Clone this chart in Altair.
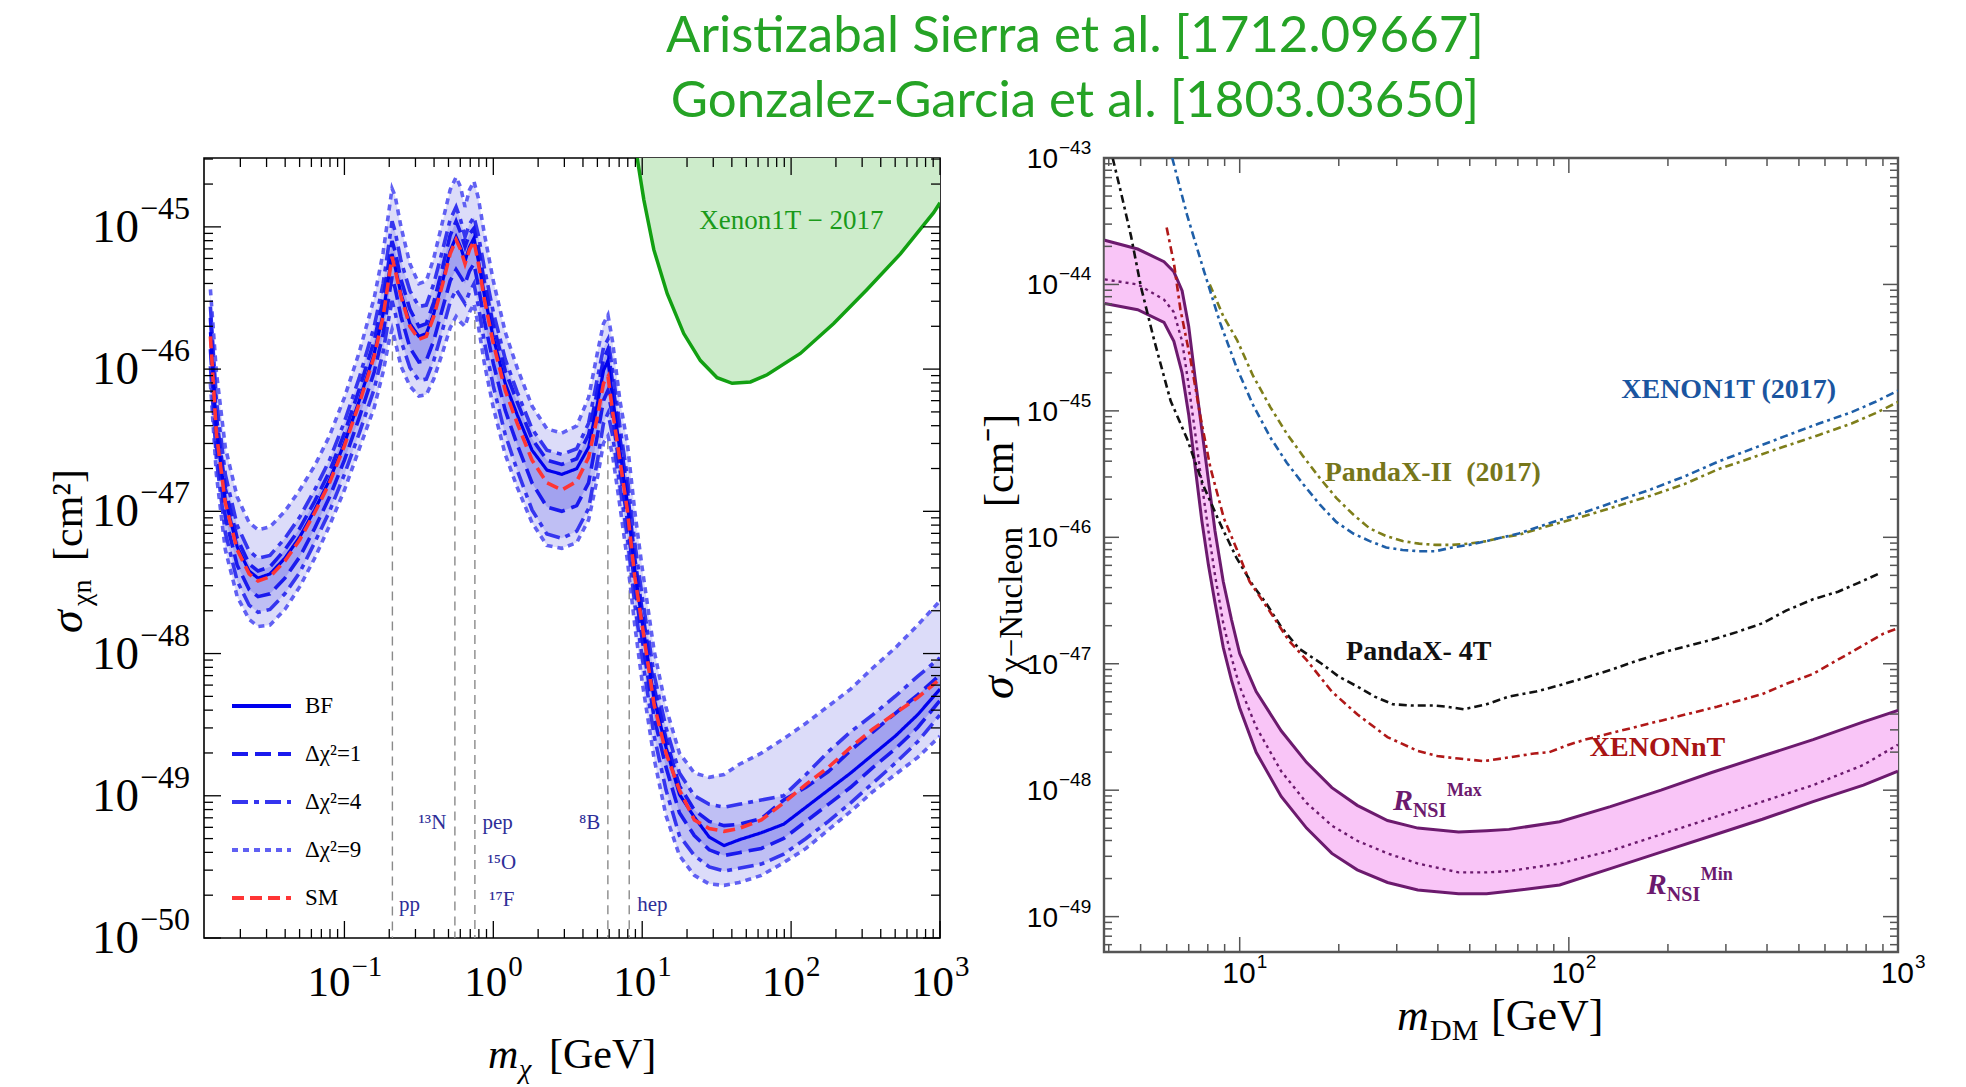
import altair as alt
import pandas as pd

SERIF = "Liberation Serif"
SANS = "Liberation Sans Narrow, Liberation Sans, Arial, sans-serif"
TITLE_FONT = "Lato"

TITLE_LINES = ["Aristizabal Sierra et al. [1712.09667]", "Gonzalez-Garcia et al. [1803.03650]"]

# ---------------------------------------------------------------------------
# Left panel: neutrino-floor discovery limit (log10 of m in GeV, log10 of sigma in cm^2)
# ---------------------------------------------------------------------------
LOG_M = [-1.90, -1.86, -1.80, -1.72, -1.64, -1.58, -1.50, -1.40, -1.30, -1.20,
         -1.10, -1.00, -0.90, -0.80, -0.74, -0.70, -0.68, -0.66, -0.62, -0.56,
         -0.50, -0.45, -0.40, -0.34, -0.29, -0.25, -0.22, -0.19, -0.16, -0.13,
         -0.10, -0.06, 0.00, 0.08, 0.16, 0.26, 0.36, 0.46, 0.56, 0.64,
         0.70, 0.74, 0.77, 0.80, 0.85, 0.90, 0.95, 1.00, 1.08, 1.16,
         1.25, 1.35, 1.45, 1.55, 1.65, 1.80, 1.95, 2.10, 2.25, 2.40,
         2.55, 2.70, 2.85, 3.00]

BF = [-45.74, -46.42, -46.92, -47.25, -47.42, -47.47, -47.44, -47.33, -47.18, -46.99,
      -46.78, -46.52, -46.22, -45.89, -45.61, -45.33, -45.19, -45.28, -45.47, -45.68,
      -45.77, -45.75, -45.61, -45.38, -45.17, -45.07, -45.14, -45.24, -45.14, -45.08,
      -45.24, -45.48, -45.78, -46.10, -46.32, -46.57, -46.71, -46.74, -46.70, -46.55,
      -46.24, -46.01, -45.94, -46.19, -46.57, -46.94, -47.41, -47.78, -48.32, -48.66,
      -48.99, -49.15, -49.29, -49.35, -49.31, -49.26, -49.20, -49.08, -48.96, -48.84,
      -48.71, -48.58, -48.43, -48.25]

SM = [-45.77, -46.45, -46.94, -47.27, -47.44, -47.49, -47.46, -47.35, -47.20, -47.01,
      -46.80, -46.54, -46.24, -45.91, -45.63, -45.35, -45.21, -45.30, -45.49, -45.70,
      -45.79, -45.77, -45.63, -45.40, -45.19, -45.09, -45.16, -45.26, -45.16, -45.10,
      -45.26, -45.51, -45.82, -46.15, -46.38, -46.64, -46.80, -46.85, -46.79, -46.62,
      -46.33, -46.10, -46.05, -46.29, -46.64, -46.99, -47.46, -47.80, -48.36, -48.70,
      -48.96, -49.17, -49.23, -49.25, -49.23, -49.17, -49.05, -48.92, -48.80, -48.66,
      -48.53, -48.42, -48.31, -48.18]

UP9 = [-45.44, -46.02, -46.55, -46.90, -47.08, -47.13, -47.11, -47.00, -46.85, -46.68,
       -46.47, -46.20, -45.88, -45.50, -45.18, -44.88, -44.73, -44.78, -45.00, -45.26,
       -45.40, -45.38, -45.22, -44.96, -44.74, -44.65, -44.72, -44.86, -44.74, -44.68,
       -44.80, -45.05, -45.38, -45.74, -45.99, -46.26, -46.42, -46.45, -46.40, -46.20,
       -45.88, -45.68, -45.62, -45.80, -46.22, -46.52, -47.00, -47.40, -47.98, -48.38,
       -48.70, -48.84, -48.87, -48.85, -48.78, -48.70, -48.60, -48.49, -48.37, -48.25,
       -48.10, -47.96, -47.80, -47.63]

UP4 = [-45.56, -46.22, -46.74, -47.10, -47.28, -47.33, -47.31, -47.19, -47.04, -46.85,
       -46.64, -46.37, -46.06, -45.70, -45.40, -45.11, -44.96, -45.03, -45.24, -45.45,
       -45.56, -45.55, -45.40, -45.16, -44.95, -44.86, -44.95, -45.07, -44.98, -44.93,
       -45.06, -45.29, -45.60, -45.93, -46.16, -46.42, -46.57, -46.60, -46.56, -46.38,
       -46.06, -45.85, -45.79, -46.00, -46.40, -46.76, -47.22, -47.60, -48.15, -48.52,
       -48.84, -49.00, -49.06, -49.08, -49.06, -49.03, -49.00, -48.85, -48.69, -48.55,
       -48.43, -48.30, -48.16, -48.03]

UP1 = [-45.64, -46.33, -46.84, -47.19, -47.37, -47.42, -47.39, -47.27, -47.12, -46.93,
       -46.72, -46.45, -46.14, -45.80, -45.51, -45.23, -45.10, -45.17, -45.37, -45.58,
       -45.70, -45.68, -45.53, -45.28, -45.06, -44.96, -45.04, -45.14, -45.05, -45.01,
       -45.15, -45.39, -45.69, -46.01, -46.23, -46.49, -46.64, -46.67, -46.63, -46.46,
       -46.15, -45.93, -45.86, -46.09, -46.48, -46.85, -47.33, -47.70, -48.24, -48.60,
       -48.93, -49.10, -49.18, -49.21, -49.20, -49.16, -49.03, -48.94, -48.83, -48.68,
       -48.55, -48.42, -48.29, -48.15]

LO1 = [-45.86, -46.53, -47.04, -47.38, -47.55, -47.60, -47.58, -47.47, -47.32, -47.12,
       -46.90, -46.64, -46.34, -46.02, -45.75, -45.48, -45.35, -45.43, -45.63, -45.85,
       -45.95, -45.94, -45.80, -45.57, -45.38, -45.30, -45.35, -45.40, -45.31, -45.26,
       -45.42, -45.66, -45.96, -46.29, -46.53, -46.80, -46.97, -47.00, -46.96, -46.80,
       -46.46, -46.22, -46.15, -46.33, -46.70, -47.06, -47.52, -47.90, -48.45, -48.80,
       -49.12, -49.28, -49.38, -49.42, -49.40, -49.37, -49.30, -49.18, -49.06, -48.94,
       -48.80, -48.67, -48.52, -48.33]

LO4 = [-45.98, -46.63, -47.15, -47.49, -47.66, -47.71, -47.69, -47.58, -47.43, -47.22,
       -47.00, -46.74, -46.45, -46.14, -45.88, -45.63, -45.52, -45.60, -45.80, -45.99,
       -46.08, -46.07, -45.94, -45.72, -45.53, -45.44, -45.49, -45.54, -45.46, -45.40,
       -45.56, -45.81, -46.12, -46.46, -46.71, -46.99, -47.16, -47.19, -47.14, -46.98,
       -46.64, -46.38, -46.31, -46.46, -46.82, -47.18, -47.65, -48.03, -48.58, -48.96,
       -49.28, -49.42, -49.50, -49.53, -49.51, -49.48, -49.41, -49.30, -49.18, -49.05,
       -48.91, -48.77, -48.62, -48.43]

LO9 = [-46.10, -46.74, -47.27, -47.60, -47.76, -47.81, -47.80, -47.69, -47.53, -47.33,
       -47.10, -46.85, -46.56, -46.27, -46.02, -45.80, -45.72, -45.80, -45.98, -46.12,
       -46.19, -46.18, -46.07, -45.88, -45.71, -45.63, -45.67, -45.70, -45.60, -45.54,
       -45.70, -45.96, -46.27, -46.60, -46.83, -47.08, -47.24, -47.26, -47.22, -47.06,
       -46.76, -46.52, -46.47, -46.60, -46.96, -47.34, -47.80, -48.20, -48.74, -49.14,
       -49.42, -49.56, -49.62, -49.63, -49.61, -49.56, -49.47, -49.37, -49.24, -49.11,
       -48.97, -48.85, -48.73, -48.58]

# Xenon1T 2017 exclusion boundary
XE_LOG_M = [0.966, 1.011, 1.078, 1.168, 1.279, 1.391, 1.503, 1.604, 1.727, 1.839,
            2.062, 2.286, 2.510, 2.734, 2.957, 3.000]
XE_LOG_S = [-44.515, -44.81, -45.16, -45.47, -45.75, -45.94, -46.06, -46.10, -46.09, -46.04,
            -45.89, -45.68, -45.44, -45.19, -44.90, -44.83]

# neutrino source thresholds (vertical guide lines end on the lowest curve)
NU_LINE_M = [0.21, 0.552, 0.752, 5.88, 8.18]
NU_LINE_TOP = [-45.77, -45.63, -45.55, -46.50, -47.45]
NU_TEXT = ["pp", "¹³N", "pep", "¹⁵O", "¹⁷F", "⁸B", "hep"]
NU_TEXT_M = [0.274, 0.39, 1.07, 1.14, 1.14, 4.43, 11.7]
NU_TEXT_LOG_S = [-49.77, -49.19, -49.19, -49.47, -49.73, -49.19, -49.77]

SERIES = ["BF", "Δχ²=1", "Δχ²=4", "Δχ²=9", "SM"]
SERIES_COLORS = ["#0000ee", "#1a1aee", "#3535ef", "#6060f3", "#ff3535"]
SERIES_DASH = [[1, 0], [16, 7], [16, 6, 5, 6], [6, 5], [12, 6]]

# ---------------------------------------------------------------------------
# Right panel: direct-detection limits and R_NSI band
# ---------------------------------------------------------------------------
X1T_LOG_M = [0.795, 0.84, 0.891, 0.94, 0.991, 1.04, 1.093, 1.143, 1.193, 1.243,
             1.294, 1.345, 1.395, 1.445, 1.495, 1.545, 1.595, 1.646, 1.697, 1.75,
             1.848, 1.95, 2.05, 2.15, 2.25, 2.35, 2.455, 2.557, 2.657, 2.76,
             2.859, 2.93, 3.0]
X1T_LOG_S = [-43.0, -43.45, -43.89, -44.3, -44.66, -44.95, -45.21, -45.41, -45.58, -45.74,
             -45.88, -45.97, -46.03, -46.08, -46.10, -46.11, -46.11, -46.08, -46.06, -46.03,
             -45.97, -45.88, -45.80, -45.71, -45.62, -45.52, -45.40, -45.30, -45.20, -45.10,
             -45.01, -44.93, -44.84]

P2_LOG_M = [0.909, 0.95, 0.992, 1.04, 1.093, 1.143, 1.193, 1.243, 1.294, 1.345,
            1.395, 1.445, 1.495, 1.545, 1.596, 1.646, 1.697, 1.75, 1.798, 1.848,
            1.95, 2.05, 2.15, 2.25, 2.35, 2.455, 2.557, 2.657, 2.76, 2.859,
            2.93, 3.0]
P2_LOG_S = [-44.0, -44.25, -44.44, -44.72, -44.97, -45.18, -45.36, -45.53, -45.69, -45.82,
            -45.93, -45.99, -46.03, -46.05, -46.06, -46.06, -46.05, -46.03, -46.0, -45.98,
            -45.90, -45.83, -45.75, -45.67, -45.58, -45.46, -45.37, -45.28, -45.19, -45.10,
            -45.02, -44.93]

P4_LOG_M = [0.614, 0.64, 0.67, 0.70, 0.74, 0.79, 0.84, 0.891, 0.942, 0.99,
            1.04, 1.08, 1.126, 1.18, 1.249, 1.30, 1.357, 1.41, 1.465, 1.52,
            1.588, 1.63, 1.68, 1.75, 1.818, 1.9, 1.972, 2.05, 2.126, 2.203,
            2.3, 2.434, 2.51, 2.588, 2.66, 2.742, 2.818, 2.88, 2.94]
P4_LOG_S = [-43.0, -43.28, -43.62, -44.02, -44.44, -44.92, -45.22, -45.60, -45.90, -46.16,
            -46.38, -46.52, -46.71, -46.88, -47.00, -47.10, -47.18, -47.26, -47.32, -47.33,
            -47.33, -47.34, -47.36, -47.32, -47.26, -47.22, -47.17, -47.11, -47.05, -46.98,
            -46.90, -46.81, -46.75, -46.68, -46.58, -46.49, -46.43, -46.36, -46.29]

XNT_LOG_M = [0.778, 0.80, 0.82, 0.851, 0.881, 0.911, 0.952, 0.992, 1.03, 1.095,
             1.15, 1.203, 1.28, 1.357, 1.449, 1.541, 1.60, 1.665, 1.742, 1.82,
             1.895, 1.94, 2.0, 2.05, 2.126, 2.203, 2.28, 2.357, 2.45, 2.588,
             2.66, 2.742, 2.85, 2.957, 3.0]
XNT_LOG_S = [-43.55, -43.83, -44.2, -44.6, -45.05, -45.45, -45.85, -46.1, -46.35, -46.6,
             -46.82, -46.97, -47.22, -47.40, -47.58, -47.69, -47.73, -47.75, -47.77, -47.74,
             -47.71, -47.70, -47.64, -47.60, -47.55, -47.50, -47.45, -47.40, -47.34, -47.24,
             -47.16, -47.08, -46.92, -46.76, -46.72]

NSI_LOG_M = [0.59, 0.69, 0.77, 0.80, 0.825, 0.845, 0.865, 0.885, 0.905, 0.925,
             0.95, 0.975, 1.0, 1.05, 1.126, 1.203, 1.28, 1.357, 1.449, 1.541,
             1.665, 1.75, 1.818, 1.972, 2.126, 2.28, 2.434, 2.588, 2.742, 2.895, 3.0]
NSI_MAX = [-43.65, -43.72, -43.82, -43.90, -44.05, -44.33, -44.75, -45.15, -45.55, -45.95,
           -46.35, -46.65, -46.92, -47.22, -47.53, -47.78, -47.98, -48.12, -48.24, -48.30,
           -48.33, -48.32, -48.31, -48.25, -48.13, -48.00, -47.86, -47.73, -47.60, -47.46, -47.37]
NSI_MIN = [-44.15, -44.20, -44.30, -44.45, -44.70, -45.03, -45.45, -45.87, -46.22, -46.52,
           -46.87, -47.13, -47.35, -47.70, -48.05, -48.30, -48.50, -48.63, -48.73, -48.79,
           -48.82, -48.82, -48.80, -48.75, -48.62, -48.49, -48.36, -48.23, -48.09, -47.96, -47.85]
NSI_MID = [-43.96, -44.00, -44.12, -44.22, -44.45, -44.80, -45.18, -45.58, -45.95, -46.30,
           -46.68, -46.95, -47.18, -47.50, -47.85, -48.10, -48.28, -48.40, -48.50, -48.58,
           -48.65, -48.65, -48.64, -48.58, -48.48, -48.35, -48.22, -48.09, -47.96, -47.80, -47.64]

# ---------------------------------------------------------------------------
W1, H1 = 736, 780
W2, H2 = 794, 794
GAP = 164

XS1 = alt.Scale(type="log", domain=[0.0114, 1000], nice=False)
YS1 = alt.Scale(type="log", domain=[1e-50, 3.05e-45], nice=False)
XS2 = alt.Scale(type="log", domain=[3.87, 1000], nice=False)
YS2 = alt.Scale(type="log", domain=[5.25e-50, 1e-43], nice=False)


def p10(values):
    return [10.0 ** v for v in values]


def X(field, scale):
    return alt.X(field, type="quantitative", scale=scale, axis=None)


def Y(field, scale):
    return alt.Y(field, type="quantitative", scale=scale, axis=None)


def frame_ticks(xs, ys, w, h, xmaj, xmin, ymaj, ymin, lmaj, lmin, color, width):
    out = []
    for vals, ln in ((xmaj, lmaj), (xmin, lmin)):
        r = alt.Chart(pd.DataFrame({"v": vals})).mark_rule(color=color, strokeWidth=width)
        out.append(r.encode(x=X("v", xs), y=alt.value(h), y2=alt.value(h - ln)))
        out.append(r.encode(x=X("v", xs), y=alt.value(0), y2=alt.value(ln)))
    for vals, ln in ((ymaj, lmaj), (ymin, lmin)):
        r = alt.Chart(pd.DataFrame({"v": vals})).mark_rule(color=color, strokeWidth=width)
        out.append(r.encode(y=Y("v", ys), x=alt.value(0), x2=alt.value(ln)))
        out.append(r.encode(y=Y("v", ys), x=alt.value(w), x2=alt.value(w - ln)))
    return out


def pow_x_labels(xs, vals, exps, y_base, y_exp, dx, fs_b, fs_e, font):
    d = pd.DataFrame({"v": vals, "b": ["10"] * len(vals), "e": exps})
    base = alt.Chart(d).mark_text(font=font, fontSize=fs_b, align="right",
                                  baseline="alphabetic", dx=dx, color="black")
    sup = alt.Chart(d).mark_text(font=font, fontSize=fs_e, align="left",
                                 baseline="alphabetic", dx=dx + 1, color="black")
    return [base.encode(x=X("v", xs), y=alt.value(y_base), text="b:N"),
            sup.encode(x=X("v", xs), y=alt.value(y_exp), text="e:N")]


def pow_y_labels(ys, vals, exps, x_anchor, dy_b, dy_e, fs_b, fs_e, font):
    d = pd.DataFrame({"v": vals, "b": ["10"] * len(vals), "e": exps})
    base = alt.Chart(d).mark_text(font=font, fontSize=fs_b, align="right",
                                  baseline="alphabetic", dy=dy_b, color="black")
    sup = alt.Chart(d).mark_text(font=font, fontSize=fs_e, align="left",
                                 baseline="alphabetic", dy=dy_e, color="black")
    return [base.encode(y=Y("v", ys), x=alt.value(x_anchor), text="b:N"),
            sup.encode(y=Y("v", ys), x=alt.value(x_anchor + 1), text="e:N")]


def piece(text, x, y, size, font=SERIF, italic=False, angle=0, dx=0, dy=0,
          weight="normal", color="black", align="left"):
    d = pd.DataFrame({"t": [text]})
    kw = dict(font=font, fontSize=size, fontStyle="italic" if italic else "normal",
              fontWeight=weight, align=align, baseline="alphabetic", dx=dx, dy=dy,
              color=color)
    if angle:
        kw["angle"] = angle
    return alt.Chart(d).mark_text(**kw).encode(x=alt.value(x), y=alt.value(y), text="t:N")


def data_text(text, m, s, xs, ys, size, color, font=SERIF, weight="normal",
              italic=False, align="center", baseline="middle", dx=0, dy=0):
    d = pd.DataFrame({"t": [text], "m": [m], "s": [s]})
    return alt.Chart(d).mark_text(
        font=font, fontSize=size, color=color, fontWeight=weight,
        fontStyle="italic" if italic else "normal", align=align, baseline=baseline,
        dx=dx, dy=dy).encode(x=X("m", xs), y=Y("s", ys), text="t:N")


# ----------------------------- left panel -----------------------------------
M = p10(LOG_M)
bands = pd.DataFrame({"m": M, "u9": p10(UP9), "l9": p10(LO9), "u4": p10(UP4),
                      "l4": p10(LO4), "u1": p10(UP1), "l1": p10(LO1)})

rows = []
for name, side, arr in (("Δχ²=9", "up", UP9), ("Δχ²=9", "lo", LO9),
                        ("Δχ²=4", "up", UP4), ("Δχ²=4", "lo", LO4),
                        ("Δχ²=1", "up", UP1), ("Δχ²=1", "lo", LO1)):
    for mv, sv in zip(M, p10(arr)):
        rows.append({"series": name, "side": side, "m": mv, "s": sv})
band_lines = pd.DataFrame(rows)
bf_line = pd.DataFrame({"series": "BF", "side": "c", "m": M, "s": p10(BF)})
sm_line = pd.DataFrame({"series": "SM", "side": "c", "m": M, "s": p10(SM)})

legend = alt.Legend(title=None, orient="none", legendX=26, legendY=536,
                    symbolType="stroke", symbolSize=3481, symbolStrokeWidth=4,
                    labelFont=SERIF, labelFontSize=23, labelColor="black",
                    labelOffset=12, rowPadding=24, clipHeight=24, padding=0)
color_enc = alt.Color("series:N", scale=alt.Scale(domain=SERIES, range=SERIES_COLORS),
                      legend=legend)
dash_enc = alt.StrokeDash("series:N", scale=alt.Scale(domain=SERIES, range=SERIES_DASH),
                          legend=legend)

xen = pd.DataFrame({"m": p10(XE_LOG_M), "s": p10(XE_LOG_S), "top": 3.05e-45})
nu_lines = pd.DataFrame({"m": NU_LINE_M, "top": p10(NU_LINE_TOP), "bot": 1e-50})
nu_text = pd.DataFrame({"t": NU_TEXT, "m": NU_TEXT_M, "s": p10(NU_TEXT_LOG_S)})

left_layers = [
    alt.Chart(xen).mark_area(color="#cdeccb", clip=True).encode(
        x=X("m", XS1), y=Y("s", YS1), y2=alt.Y2("top")),
    alt.Chart(xen).mark_line(color="#12a012", strokeWidth=3.5, clip=True).encode(
        x=X("m", XS1), y=Y("s", YS1)),
    alt.Chart(bands).mark_area(color="#dcdcf9", clip=True).encode(
        x=X("m", XS1), y=Y("l9", YS1), y2=alt.Y2("u9")),
    alt.Chart(bands).mark_area(color="#bfbff4", clip=True).encode(
        x=X("m", XS1), y=Y("l4", YS1), y2=alt.Y2("u4")),
    alt.Chart(bands).mark_area(color="#a2a2ef", clip=True).encode(
        x=X("m", XS1), y=Y("l1", YS1), y2=alt.Y2("u1")),
    alt.Chart(nu_lines).mark_rule(color="#8a8a8a", strokeWidth=1.4, strokeDash=[9, 6]).encode(
        x=X("m", XS1), y=Y("top", YS1), y2=alt.Y2("bot")),
    alt.Chart(band_lines).mark_line(strokeWidth=3.6, clip=True).encode(
        x=X("m", XS1), y=Y("s", YS1), color=color_enc, strokeDash=dash_enc, detail="side:N"),
    alt.Chart(bf_line).mark_line(strokeWidth=3.2, clip=True).encode(
        x=X("m", XS1), y=Y("s", YS1), color=color_enc, strokeDash=dash_enc),
    alt.Chart(sm_line).mark_line(strokeWidth=3.6, clip=True).encode(
        x=X("m", XS1), y=Y("s", YS1), color=color_enc, strokeDash=dash_enc),
    alt.Chart(nu_text).mark_text(font=SERIF, fontSize=21, color="#2e2e98").encode(
        x=X("m", XS1), y=Y("s", YS1), text="t:N"),
    data_text("Xenon1T − 2017", 100.5, 10 ** -44.958, XS1, YS1, 27, "#1a9a1a"),
]

X_MAJ_L = [0.1, 1, 10, 100, 1000]
X_MIN_L = [k * 10.0 ** d for d in range(-2, 3) for k in range(2, 10)]
Y_MAJ_L = [10.0 ** e for e in range(-50, -44)]
Y_MIN_L = [k * 10.0 ** e for e in range(-50, -44) for k in range(2, 10) if k * 10.0 ** e <= 3.05e-45]
left_layers += frame_ticks(XS1, YS1, W1, H1, X_MAJ_L, X_MIN_L, Y_MAJ_L, Y_MIN_L,
                           17, 9, "black", 1.3)
left_layers += pow_x_labels(XS1, [0.1], ["−1"], H1 + 58, H1 + 38, 6, 43, 29, SERIF)
left_layers += pow_x_labels(XS1, [1, 10, 100, 1000], ["0", "1", "2", "3"],
                            H1 + 58, H1 + 38, 14, 43, 29, SERIF)
left_layers += pow_y_labels(YS1, Y_MAJ_L, ["−50", "−49", "−48", "−47", "−46", "−45"],
                            -65, 15, -8, 47, 32, SERIF)
# axis titles
left_layers += [
    piece("m", 284, 910, 42, italic=True),
    piece("χ", 315, 920, 28, italic=True),
    piece("[GeV]", 345, 910, 42),
    piece("σ", -122, 475, 46, italic=True, angle=270),
    piece("χn", -122, 475, 28, angle=270, dx=27, dy=9),
    piece("[cm²]", -122, 475, 42, angle=270, dx=72),
]
# two-line heading, centred over both panels
HEAD_X = 871
left_layers += [
    piece(TITLE_LINES[0], HEAD_X, -106, 51, font=TITLE_FONT, color="#25a325", align="center"),
    piece(TITLE_LINES[1], HEAD_X, -41, 51, font=TITLE_FONT, color="#25a325", align="center"),
]

left = alt.layer(*left_layers).properties(
    width=W1, height=H1, view=alt.ViewBackground(stroke="black", strokeWidth=1.6))

# ----------------------------- right panel ----------------------------------
nsi = pd.DataFrame({"m": p10(NSI_LOG_M), "hi": p10(NSI_MAX), "lo": p10(NSI_MIN),
                    "mid": p10(NSI_MID)})


def limit_line(lm, ls, color, dash, width=2.6):
    d = pd.DataFrame({"m": p10(lm), "s": p10(ls)})
    return alt.Chart(d).mark_line(color=color, strokeDash=dash, strokeWidth=width,
                                  clip=True).encode(x=X("m", XS2), y=Y("s", YS2))


PURPLE = "#6c1a6e"
right_layers = [
    alt.Chart(nsi).mark_area(color="#f9c5f7", clip=True).encode(
        x=X("m", XS2), y=Y("lo", YS2), y2=alt.Y2("hi")),
    alt.Chart(nsi).mark_line(color=PURPLE, strokeWidth=3, clip=True).encode(
        x=X("m", XS2), y=Y("hi", YS2)),
    alt.Chart(nsi).mark_line(color=PURPLE, strokeWidth=3, clip=True).encode(
        x=X("m", XS2), y=Y("lo", YS2)),
    alt.Chart(nsi).mark_line(color=PURPLE, strokeWidth=2.4, strokeDash=[3, 4], clip=True).encode(
        x=X("m", XS2), y=Y("mid", YS2)),
    limit_line(P4_LOG_M, P4_LOG_S, "#111111", [8, 4, 3, 4]),
    limit_line(XNT_LOG_M, XNT_LOG_S, "#b01818", [8, 4, 3, 4]),
    limit_line(P2_LOG_M, P2_LOG_S, "#7e7e1a", [8, 4, 3, 4]),
    limit_line(X1T_LOG_M, X1T_LOG_S, "#1f5fa8", [8, 4, 3, 4]),
    data_text("XENON1T (2017)", 306, 10 ** -44.834, XS2, YS2, 28, "#1a55a0", weight="bold"),
    data_text("PandaX-II\u00a0 (2017)", 38.6, 10 ** -45.49, XS2, YS2, 28, "#76761a", weight="bold"),
    data_text("PandaX- 4T", 35.0, 10 ** -46.905, XS2, YS2, 28, "#111111", weight="bold"),
    data_text("XENONnT", 186, 10 ** -47.67, XS2, YS2, 28, "#a81414", weight="bold"),
    data_text("R", 29.2, 10 ** -48.16, XS2, YS2, 30, PURPLE, weight="bold", italic=True,
              align="left", baseline="alphabetic"),
    data_text("NSI", 29.2, 10 ** -48.16, XS2, YS2, 20, PURPLE, weight="bold",
              align="left", baseline="alphabetic", dx=20, dy=7),
    data_text("Max", 29.2, 10 ** -48.16, XS2, YS2, 18, PURPLE, weight="bold",
              align="left", baseline="alphabetic", dx=54, dy=-14),
    data_text("R", 172.6, 10 ** -48.82, XS2, YS2, 30, PURPLE, weight="bold", italic=True,
              align="left", baseline="alphabetic"),
    data_text("NSI", 172.6, 10 ** -48.82, XS2, YS2, 20, PURPLE, weight="bold",
              align="left", baseline="alphabetic", dx=20, dy=7),
    data_text("Min", 172.6, 10 ** -48.82, XS2, YS2, 18, PURPLE, weight="bold",
              align="left", baseline="alphabetic", dx=54, dy=-14),
]

X_MAJ_R = [10, 100, 1000]
X_MIN_R = [k * 10.0 ** d for d in range(0, 3) for k in range(2, 10) if k * 10.0 ** d >= 3.87]
Y_MAJ_R = [10.0 ** e for e in range(-49, -42)]
Y_MIN_R = [k * 10.0 ** e for e in range(-50, -43) for k in range(2, 10)
           if 5.25e-50 <= k * 10.0 ** e <= 1e-43]
right_layers += frame_ticks(XS2, YS2, W2, H2, X_MAJ_R, X_MIN_R, Y_MAJ_R, Y_MIN_R,
                            15, 8, "#555555", 1.5)
right_layers += pow_x_labels(XS2, X_MAJ_R, ["1", "2", "3"], H2 + 31, H2 + 16, 16, 30, 19, SANS)
right_layers += pow_y_labels(YS2, Y_MAJ_R, ["−49", "−48", "−47", "−46", "−45", "−44", "−43"],
                             -46, 10, -4, 28, 19, SANS)
right_layers += [
    piece("m", 293, 872, 44, italic=True),
    piece("DM", 326, 882, 30),
    piece("[GeV]", 387, 872, 44),
    piece("σ", -91, 541, 46, italic=True, angle=270),
    piece("χ−Nucleon", -91, 541, 33, angle=270, dx=27, dy=9),
    piece("[cm⁻]", -91, 541, 42, angle=270, dx=192),
]

right = alt.layer(*right_layers).properties(
    width=W2, height=H2, view=alt.ViewBackground(stroke="#555555", strokeWidth=2.4))

chart = alt.hconcat(left, right, spacing=GAP, bounds="flush").resolve_scale(
    color="independent", strokeDash="independent"
).properties(
    padding={"left": 44, "top": 10, "right": 5, "bottom": 0},
    background="white",
)

chart.save("out.html", embed_options={"renderer": "svg", "actions": False})
